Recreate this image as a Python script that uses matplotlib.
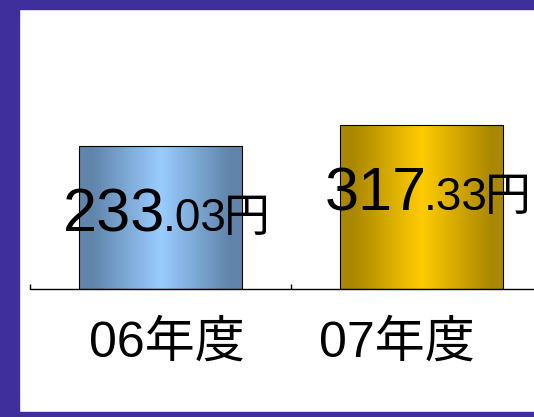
import numpy as np
import matplotlib
matplotlib.use('Agg')
import matplotlib.pyplot as plt
from matplotlib.patches import Rectangle
from matplotlib.colors import LinearSegmentedColormap
from matplotlib.offsetbox import TextArea, HPacker, AnnotationBbox

# data
years = ['06年度', '07年度']
values = [233.03, 317.33]
unit = '円'

# look
edge_cols = [(0.38, 0.52, 0.67), (0.67, 0.53, 0.0)]
mid_cols = [(0.60, 0.80, 1.0), (1.0, 0.80, 0.0)]
frame_col = '#3f2f9c'
base = -341.0          # y value at the baseline
px_per_unit = 0.2491

W, H = 534, 417
fig = plt.figure(figsize=(W / 100, H / 100), dpi=100)
fig.patch.set_facecolor('white')

ax_h = 280
ax = fig.add_axes([30 / W, 128 / H, 522 / W, ax_h / H])
ax.set_facecolor('none')
for s in ['left', 'right', 'top']:
    ax.spines[s].set_visible(False)
ax.spines['bottom'].set_linewidth(1.0)
ax.set_yticks([])
ax.set_xticks([])
ax.set_xticks([-0.5, 0.5, 1.5], minor=True)
ax.tick_params(axis='x', which='minor', direction='in', length=3.6, width=1.0)

bars = ax.bar(range(len(values)), np.array(values) - base, bottom=base,
              width=0.625, facecolor='none', edgecolor='black', linewidth=0.8, zorder=3)

xs = np.linspace(0, 1, 256)
prof = np.clip(1 - np.abs(xs - 0.5) / 0.42, 0, 1)
for rect, c0, c1 in zip(bars, edge_cols, mid_cols):
    cmap = LinearSegmentedColormap.from_list('g', [c0, c1])
    x0, y0 = rect.get_x(), rect.get_y()
    im = ax.imshow(prof[np.newaxis, :], cmap=cmap, vmin=0, vmax=1, aspect='auto',
                   extent=[x0, x0 + rect.get_width(), y0, y0 + rect.get_height()],
                   interpolation='bilinear', zorder=2)
    im.set_clip_path(rect)
ax.set_xlim(-0.5, 1.5)
ax.set_ylim(base, base + ax_h / px_per_unit)

# value labels
for i, v in enumerate(values):
    whole, dec = f'{v:.2f}'.split('.')
    parts = [
        TextArea(whole, textprops=dict(fontsize=44, family='Liberation Sans')),
        TextArea('.' + dec, textprops=dict(fontsize=33, family='Liberation Sans')),
        TextArea(unit, textprops=dict(fontsize=33, family='Noto Sans CJK JP')),
    ]
    pack = HPacker(children=parts, align='baseline', pad=0, sep=-2)
    ab = AnnotationBbox(pack, (i, v), xybox=(6, -98), xycoords='data',
                        boxcoords='offset pixels', box_alignment=(0.5, 0),
                        frameon=False, zorder=5)
    ax.add_artist(ab)

# category labels
for i, (yr, dx) in enumerate(zip(years, [6, -25])):
    ax.annotate(yr, xy=(i, 0), xycoords=ax.get_xaxis_transform(),
                xytext=(dx, -68), textcoords='offset pixels',
                ha='center', va='baseline', fontsize=36,
                family=['Liberation Sans', 'Noto Sans CJK JP'])

# purple frame
fig.add_artist(Rectangle((0, 0), 19 / W, 1, transform=fig.transFigure, color=frame_col, zorder=10))
fig.add_artist(Rectangle((0, 1 - 9 / H), 1, 9 / H, transform=fig.transFigure, color=frame_col, zorder=10))
fig.add_artist(Rectangle((0, 0), 1, 5 / H, transform=fig.transFigure, color=frame_col, zorder=10))

fig.savefig('out.png', dpi=100)
